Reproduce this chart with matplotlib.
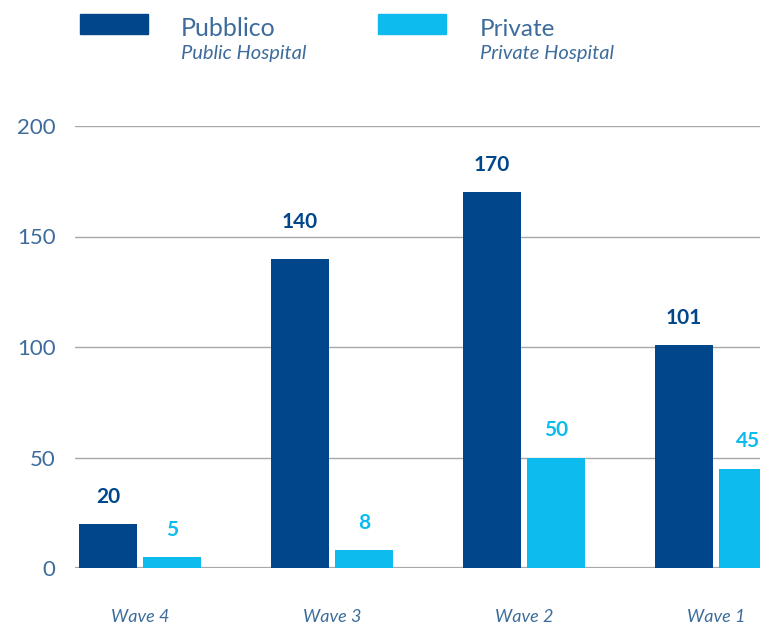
import numpy as np
import matplotlib
matplotlib.use('Agg')
import matplotlib.pyplot as plt
from matplotlib.patches import Rectangle

waves = ['Wave 4', 'Wave 3', 'Wave 2', 'Wave 1']
pubblico = [20, 140, 170, 101]
private = [5, 8, 50, 45]
yticks = [0, 50, 100, 150, 200]

dark = '#00468b'
light = '#0dbbee'
txt = '#3d6c9c'
grid = '#a8a8a8'

plt.rcParams['font.family'] = ['Lato', 'DejaVu Sans']

fig = plt.figure(figsize=(7.6, 6.25), dpi=100)
ax = fig.add_axes([75 / 760, 57 / 625, 685 / 760, 442 / 625])

x = np.arange(len(waves))
w = 0.302
off = 0.1667
b1 = ax.bar(x - off, pubblico, w, color=dark, zorder=3)
b2 = ax.bar(x + off, private, w, color=light, zorder=3)

# the label over the Wave 3 public bar sits a bit higher in the original
extra = {(0, 1): 7}
for k, (bars, vals, c) in enumerate(((b1, pubblico, dark), (b2, private, light))):
    for i, (r, v) in enumerate(zip(bars, vals)):
        ax.annotate(str(v), (r.get_x() + r.get_width() / 2, v),
                    xytext=(0, 19.5 + extra.get((k, i), 0)), textcoords='offset points',
                    ha='center', va='center', fontsize=15,
                    fontweight='bold', color=c, annotation_clip=False)

ax.set_xlim(-0.339, 3.229)
ax.set_ylim(0, 200)
ax.set_yticks(yticks)
ax.set_yticklabels([str(t) for t in yticks])
for t in yticks:
    ax.axhline(t, color=grid, lw=1.6 if t == 0 else 1.0, zorder=1)

ax.set_xticks(x)
ax.set_xticklabels(waves, fontsize=13, style='italic', color=txt)
ax.tick_params(axis='x', length=0, pad=29.5)
ax.tick_params(axis='y', length=0, pad=14, labelsize=16, labelcolor=txt)
for s in ax.spines.values():
    s.set_visible(False)

# legend drawn in figure pixels
def px(xp, yp):
    return xp / 760, 1 - yp / 625

fig.patches.append(Rectangle(px(80, 34), 68 / 760, 20 / 625, transform=fig.transFigure,
                             color=dark, figure=fig))
fig.patches.append(Rectangle(px(378, 34), 68 / 760, 20 / 625, transform=fig.transFigure,
                             color=light, figure=fig))
fig.text(*px(181, 36), 'Pubblico', fontsize=18, color=txt, va='baseline')
fig.text(*px(181, 58.5), 'Public Hospital', fontsize=14.5, style='italic',
         color=txt, va='baseline')
fig.text(*px(480, 36), 'Private', fontsize=17.5, color=txt, va='baseline')
fig.text(*px(480, 58.5), 'Private Hospital', fontsize=14.5, style='italic',
         color=txt, va='baseline')

fig.savefig('out.png', dpi=100)
